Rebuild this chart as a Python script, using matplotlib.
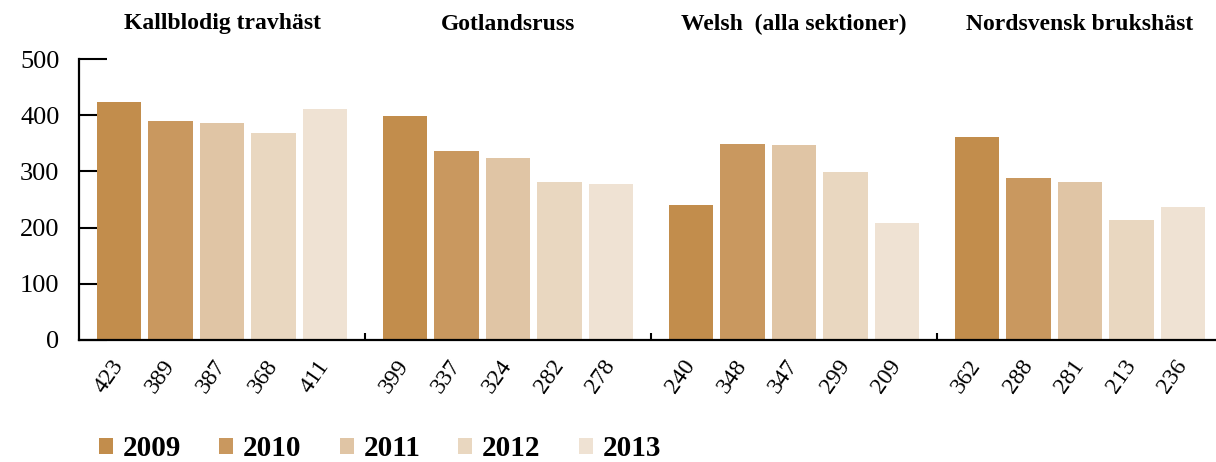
import numpy as np
import matplotlib
matplotlib.use("Agg")
import matplotlib.pyplot as plt

# antal registrerade föl per ras och år
breeds = ["Kallblodig travhäst", "Gotlandsruss", "Welsh  (alla sektioner)", "Nordsvensk brukshäst"]
years = ["2009", "2010", "2011", "2012", "2013"]
v2009 = [423, 399, 240, 362]
v2010 = [389, 337, 348, 288]
v2011 = [387, 324, 347, 281]
v2012 = [368, 282, 299, 213]
v2013 = [411, 278, 209, 236]
series = [v2009, v2010, v2011, v2012, v2013]
colors = ["#c28d4c", "#c9985f", "#e0c5a5", "#e9d7c0", "#efe2d3"]

plt.rcParams['font.family'] = ['Liberation Serif', 'DejaVu Serif']

fig = plt.figure(figsize=(12.16, 4.62), dpi=100)
ax = fig.add_axes([79/1216, 122/462, 1137/1216, 281/462])

width = 0.154
step = 0.18
base = np.arange(len(breeds))
centers = []
labels = []
for i, (vals, yr, c) in enumerate(zip(series, years, colors)):
    xs = base + 0.14 + i * step
    ax.bar(xs, vals, width=width, color=c, label=yr, zorder=1)
    centers.extend(xs)
    labels.extend(vals)

order = np.argsort(centers)
ax.set_xticks(np.array(centers)[order])
ax.set_xticklabels([str(labels[k]) for k in order], rotation=55,
                   ha='right', va='center', rotation_mode='anchor', fontsize=17)
ax.tick_params(axis='x', which='major', length=0, pad=16)
ax.set_xticks([1, 2, 3], minor=True)
ax.tick_params(axis='x', which='minor', direction='in', length=5, width=1.5)

ax.set_xlim(0, 1137/286)
ax.set_ylim(0, 500)
ax.set_yticks([0, 100, 200, 300, 400, 500])
ax.tick_params(axis='y', direction='in', length=20, width=1.5, pad=14, labelsize=19)
ax.set_axisbelow(True)

for s in ['top', 'right']:
    ax.spines[s].set_visible(False)
ax.spines['left'].set_linewidth(1.6)
ax.spines['bottom'].set_linewidth(1.6)
ax.spines['left'].set_bounds(0, 500)

for k, name in enumerate(breeds):
    ax.text(k + 0.5, 1.0 + 35/281, name, transform=ax.get_xaxis_transform(),
            ha='center', va='center', fontsize=17, fontweight='bold')

fig.legend(loc='center left', bbox_to_anchor=(99/1216, 1 - 449/462),
           bbox_transform=fig.transFigure, ncol=5, frameon=False,
           handlelength=0.48, handleheight=0.48,
           handletextpad=0.34, columnspacing=1.3, borderpad=0, borderaxespad=0,
           prop={'weight': 'bold', 'size': 21})

fig.savefig("out.png", dpi=100)
